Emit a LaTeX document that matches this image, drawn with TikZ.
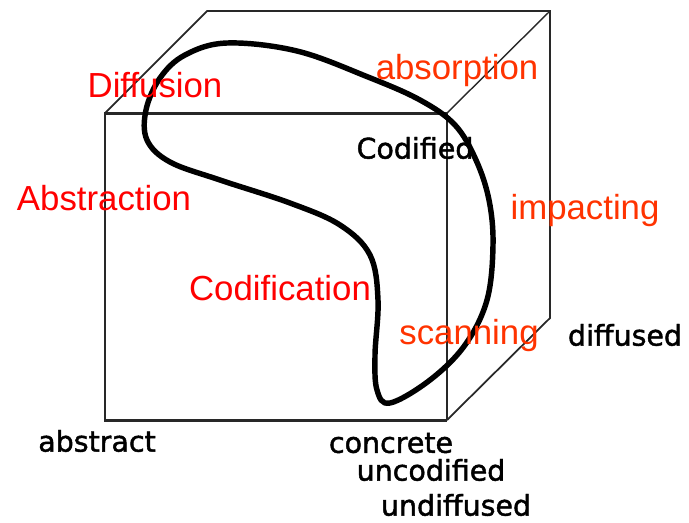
\documentclass[tikz,border=0pt]{standalone}
\usepackage{fontspec}
\setmainfont{Liberation Sans}
\newfontfamily\tagfont[FakeBold=1.6]{DejaVu Sans}
\usepackage{tikz}
\usetikzlibrary{calc}
\usepackage{xcolor}
\definecolor{flowred}{RGB}{255,0,0}
\definecolor{flowora}{RGB}{255,51,0}
\definecolor{edgegray}{RGB}{40,40,40}

\begin{document}
\begin{tikzpicture}[x=0.02cm,y=-0.02cm,
  every node/.style={inner sep=0pt},
  phase/.style={text=flowred,font=\fontsize{19.8}{22}\selectfont},
  move/.style={text=flowora,font=\fontsize{19.8}{22}\selectfont},
  pole/.style={text=black,font=\tagfont\fontsize{16.2}{18}\selectfont},
  front/.style={edgegray,line width=1.7pt},
  back/.style={edgegray,line width=0.8pt},
  loop/.style={black,line width=3.1pt}]

\useasboundingbox (0,0) rectangle (689,522);

% cube
\draw[front] (447,113) -- (105,113) -- (105,420) -- (447,420);
\draw[back] (447,113) -- (447,420);
\draw[back,line width=1pt] (105,113) -- (207,11) -- (550,11) -- (550,318) -- (447,420);
\draw[back] (447,113) -- (550,11);

% learning cycle
\draw[loop] plot[smooth cycle,tension=0.6] coordinates {
  (227,43) (297,51) (368,77) (420,100) (455,125) (476,160) (489,200)
  (493,245) (487,300) (465,345) (430,380) (390,403) (377,390) (375,355)
  (378,300) (370,255) (340,225) (290,203) (220,180) (170,162) (147,140)
  (146,110) (160,78) (185,55)};

% phases
\node[phase] (diffusion) at (155,85) {Diffusion};
\node[phase] (abstraction) at (104,198) {Abstraction};
\node[phase] (codification) at (280,288) {Codification};
\node[move] (absorption) at (457,70) {absorption};
\node[move] (impacting) at (585,210) {impacting};
\node[move] (scanning) at (469,335) {scanning};

% poles of the axes
\node[pole] (codified) at (415,148) {Codified};
\node[pole] (diffused) at (625,335) {diffused};
\node[pole] (abstract) at (97,441) {abstract};
\node[pole] (concrete) at (391,443) {concrete};
\node[pole] (uncodified) at (431,470) {uncodified};
\node[pole] (undiffused) at (456,505) {undiffused};
\end{tikzpicture}
\end{document}
